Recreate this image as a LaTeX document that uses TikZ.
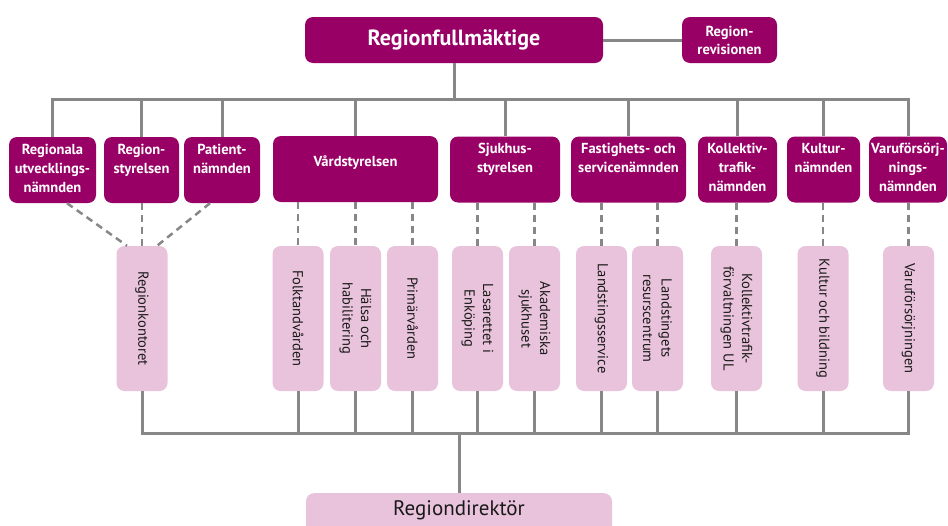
\documentclass[tikz,border=0pt]{standalone}
\usepackage{fontspec}
\setmainfont{PT Sans}
\definecolor{mag}{HTML}{990066}
\definecolor{pinkbox}{HTML}{E8C3DB}
\definecolor{linegray}{HTML}{878787}
\begin{document}
\begin{tikzpicture}[x=1pt,y=-1pt,
 topbox/.style={fill=mag, rounded corners=8pt, inner sep=0pt},
 toptext/.style={text=white, font=\bfseries\fontsize{14.5}{19}\selectfont, align=center, inner sep=0pt, anchor=north},
 subbox/.style={fill=pinkbox, rounded corners=8pt, minimum width=145pt, minimum height=51pt, inner sep=0pt, rotate=-90, align=center, font=\fontsize{14.5}{18.5}\selectfont, text=black!90},
 solidline/.style={draw=linegray, line width=3pt},
 dashline/.style={draw=linegray, line width=2.5pt, dash pattern=on 7pt off 5pt},
]
\useasboundingbox (0,0) rectangle (948,525);
% --- top level
\node[topbox, minimum width=298pt, minimum height=46pt, text=white, font=\bfseries\fontsize{22}{26}\selectfont] (rf) at (454,40) {Regionfullmäktige};
\node[topbox, minimum width=95pt, minimum height=46pt, text=white, align=center, font=\bfseries\fontsize{14.5}{18}\selectfont] (rr) at (729.5,40) {Region-\\revisionen};
% --- boards
\node[topbox, minimum width=87pt, minimum height=66pt] (rua) at (52.5,170) {};
\node[topbox, minimum width=75pt, minimum height=66pt] (rs) at (141.5,170) {};
\node[topbox, minimum width=76pt, minimum height=66pt] (pn) at (222,170) {};
\node[topbox, minimum width=165pt, minimum height=66pt] (vs) at (355.5,169) {};
\node[topbox, minimum width=110pt, minimum height=66pt] (ss) at (505,169.5) {};
\node[topbox, minimum width=115pt, minimum height=66pt] (fs) at (628.5,169.5) {};
\node[topbox, minimum width=79pt, minimum height=66pt] (kt) at (737.5,169.5) {};
\node[topbox, minimum width=73pt, minimum height=66pt] (kn) at (823.5,169.5) {};
\node[topbox, minimum width=78pt, minimum height=66pt] (vf) at (908,169.5) {};
\node[toptext] (ruat) at ([yshift=-7pt]rua.north) {Regionala\\utvecklings-\\nämnden};
\node[toptext] (rst) at ([yshift=-7pt]rs.north) {Region-\\styrelsen};
\node[toptext] (pnt) at ([yshift=-7pt]pn.north) {Patient-\\nämnden};
\node[toptext, anchor=center] (vst) at (355.5,163) {Vårdstyrelsen};
\node[toptext] (sst) at ([yshift=-7pt]ss.north) {Sjukhus-\\styrelsen};
\node[toptext] (fst) at ([yshift=-7pt]fs.north) {Fastighets- och\\servicenämnden};
\node[toptext] (ktt) at ([yshift=-7pt]kt.north) {Kollektiv-\\trafik-\\nämnden};
\node[toptext] (knt) at ([yshift=-7pt]kn.north) {Kultur-\\nämnden};
\node[toptext] (vft) at ([yshift=-7pt]vf.north) {Varuförsörj-\\nings-\\nämnden};
% --- administrations
\node[subbox] (rk) at (142,318.5) {Regionkontoret};
\node[subbox] (ft) at (298,318.5) {Folktandvården};
\node[subbox] (hh) at (355.5,318.5) {Hälsa och\\habilitering};
\node[subbox] (pv) at (412.5,318.5) {Primärvården};
\node[subbox] (le) at (477.5,318.5) {Lasarettet i\\Enköping};
\node[subbox] (as) at (534.5,318.5) {Akademiska\\sjukhuset};
\node[subbox] (ls) at (601.5,318.5) {Landstingsservice};
\node[subbox] (lr) at (657.5,318.5) {Landstingets\\resurscentrum};
\node[subbox] (ku) at (736.5,318.5) {Kollektivtrafik-\\förvaltningen UL};
\node[subbox] (kb) at (823,318.5) {Kultur och bildning};
\node[subbox] (vg) at (908.5,318.5) {Varuförsörjningen};
% --- director
\node[fill=pinkbox, rounded corners=8pt, minimum width=306pt, minimum height=44pt, inner sep=0pt, anchor=north] (rd) at (459,493) {};
\node[font=\fontsize{21}{24}\selectfont, text=black!90, inner sep=0pt] (rdt) at (459,510) {Regiondirektör};
% --- connectors
\coordinate (bus) at (0,99);
\coordinate (bbus) at (0,433);
\draw[solidline] (rf.east) -- (rr.west);
\draw[solidline] (rf.south) -- (rf.south |- bus);
\draw[solidline] (rua.north) -- (rua.north |- bus) -- (vf.north |- bus) -- (vf.north);
\foreach \n in {rs,pn,vs,ss,fs,kt,kn}{
  \draw[solidline] (\n.north |- bus) -- (\n.north);
}
% dashed
\draw[dashline] ([xshift=14.5pt]rua.south) -- ([xshift=-15pt]rk.west);
\draw[dashline] (rk.west |- rs.south) -- (rk.west);
\draw[dashline] ([xshift=-12pt]pn.south) -- ([xshift=15pt]rk.west);
\foreach \c/\p in {ft/vs,hh/vs,pv/vs,le/ss,as/ss,ls/fs,lr/fs,ku/kt,kb/kn,vg/vf}{
  \draw[dashline] (\c.west |- \p.south) -- (\c.west);
}
% bottom bus
\draw[solidline] (rk.east) -- (rk.east |- bbus) -- (vg.east |- bbus) -- (vg.east);
\foreach \n in {ft,hh,pv,le,as,ls,lr,ku,kb}{
  \draw[solidline] (\n.east) -- (\n.east |- bbus);
}
\draw[solidline] (rd.north |- bbus) -- (rd.north);
\end{tikzpicture}
\end{document}
